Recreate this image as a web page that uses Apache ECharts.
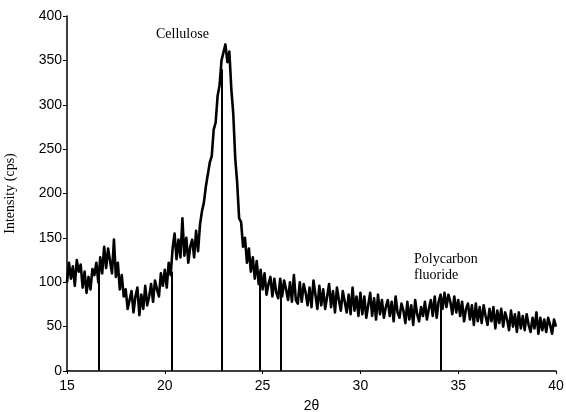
<!DOCTYPE html>
<html>
<head>
<meta charset="utf-8">
<script src="https://cdn.jsdelivr.net/npm/echarts@6/dist/echarts.min.js"></script>
<style>
  html, body { margin: 0; padding: 0; background: #fff; }
  #main { width: 566px; height: 412px; }
</style>
</head>
<body>
<div id="main"></div>
<script>
// 2θ 起點與步長（每 0.1 度一點）
const startAngle = 15;
const stepAngle = 0.1;

// 讀圖估計的強度值 (cps)，每行一度，高低交替表示雜訊帶
const intensity = [
  100, 122, 104, 118, 96, 125, 112, 120, 94, 112,      // 15
  88, 106, 92, 115, 108, 122, 100, 128, 110, 140,      // 16
  116, 138, 124, 110, 148, 106, 122, 92, 108, 84,      // 17
  92, 70, 80, 90, 66, 84, 94, 63, 86, 70,              // 18
  96, 74, 84, 98, 78, 102, 92, 84, 110, 96,            // 19
  114, 94, 122, 108, 138, 155, 126, 148, 128, 172,     // 20
  130, 150, 122, 140, 148, 128, 158, 135, 165, 180,    // 21
  190, 208, 210, 235, 242, 272, 280, 310, 322, 350,    // 22
  352, 368, 348, 360, 318, 290, 240, 212, 172, 168,    // 23
  140, 150, 122, 138, 112, 128, 104, 124, 98, 114,     // 24
  92, 110, 86, 98, 106, 84, 104, 88, 82, 104,          // 25
  84, 102, 92, 80, 100, 78, 108, 80, 76, 100,          // 26
  78, 98, 88, 74, 94, 72, 102, 86, 70, 96,             // 27
  74, 92, 70, 84, 98, 72, 90, 66, 94, 80,              // 28
  68, 90, 78, 66, 86, 64, 94, 68, 84, 62,              // 29
  88, 64, 84, 60, 74, 88, 62, 82, 58, 86,              // 30
  64, 80, 60, 72, 80, 62, 78, 56, 84, 66,              // 31
  60, 76, 68, 54, 78, 58, 74, 52, 80, 64,              // 32
  56, 72, 62, 78, 58, 70, 80, 62, 84, 60,              // 33
  78, 86, 70, 88, 72, 86, 78, 64, 84, 66,              // 34
  80, 62, 78, 56, 70, 76, 58, 74, 52, 76,              // 35
  56, 72, 54, 74, 62, 52, 70, 56, 72, 48,              // 36
  68, 54, 70, 50, 66, 58, 46, 68, 50, 64,              // 37
  44, 66, 48, 62, 46, 64, 52, 44, 60, 48,              // 38
  66, 42, 60, 46, 58, 44, 60, 52, 42, 58,              // 39
  50                                                   // 40
];

// 峰位標記線
const peakAngles = [16.6, 20.35, 22.9, 24.85, 25.95, 34.1];
const peakTops = [105, 112, 340, 100, 92, 78];

// 軸刻度
const xTicks = [15, 20, 25, 30, 35, 40];
const yTicks = [0, 50, 100, 150, 200, 250, 300, 350, 400];

const curve = intensity.map((v, i) => [+(startAngle + i * stepAngle).toFixed(2), v]);

const myChart = echarts.init(document.getElementById('main'));

const option = {
  backgroundColor: '#fff',
  animation: false,
  grid: { left: 67, right: 10, top: 16, bottom: 41, containLabel: false, outerBoundsMode: 'none' },
  xAxis: {
    type: 'value',
    min: xTicks[0],
    max: xTicks[xTicks.length - 1],
    interval: 5,
    name: '2θ',
    nameLocation: 'middle',
    nameGap: 28,
    nameTextStyle: { fontFamily: 'Liberation Sans', fontSize: 14, color: '#000' },
    axisLine: { lineStyle: { color: '#000', width: 1.5 } },
    axisTick: { length: 3, lineStyle: { color: '#000' } },
    axisLabel: { fontFamily: 'Liberation Sans', fontSize: 14, color: '#000', margin: 8 },
    splitLine: { show: false }
  },
  yAxis: {
    type: 'value',
    min: yTicks[0],
    max: yTicks[yTicks.length - 1],
    interval: 50,
    name: 'Intensity (cps)',
    nameLocation: 'middle',
    nameGap: 50,
    nameTextStyle: { fontFamily: 'Liberation Serif', fontSize: 14, color: '#000' },
    axisLine: { show: true, lineStyle: { color: '#000', width: 1.5 } },
    axisTick: { show: true, length: 4, lineStyle: { color: '#000' } },
    axisLabel: { fontFamily: 'Liberation Sans', fontSize: 14, color: '#000', margin: 5 },
    splitLine: { show: false }
  },
  series: [
    {
      type: 'line',
      data: curve,
      symbol: 'none',
      lineStyle: { color: '#000', width: 2.6, join: 'round' },
      markLine: {
        silent: true,
        symbol: 'none',
        label: { show: false },
        lineStyle: { color: '#000', width: 2, type: 'solid' },
        data: peakAngles.map((x, i) => [
          { coord: [x, 0] },
          { coord: [x, peakTops[i]] }
        ])
      }
    }
  ],
  graphic: [
    { type: 'text', left: 156, top: 27, style: { text: 'Cellulose', font: '14px "Liberation Serif"', fill: '#000' } },
    { type: 'text', left: 414, top: 252, style: { text: 'Polycarbon', font: '14px "Liberation Serif"', fill: '#000' } },
    { type: 'text', left: 414, top: 268, style: { text: 'fluoride', font: '14px "Liberation Serif"', fill: '#000' } }
  ]
};

myChart.setOption(option);

window.addEventListener('resize', function () {
  myChart.resize();
});
</script>
</body>
</html>
